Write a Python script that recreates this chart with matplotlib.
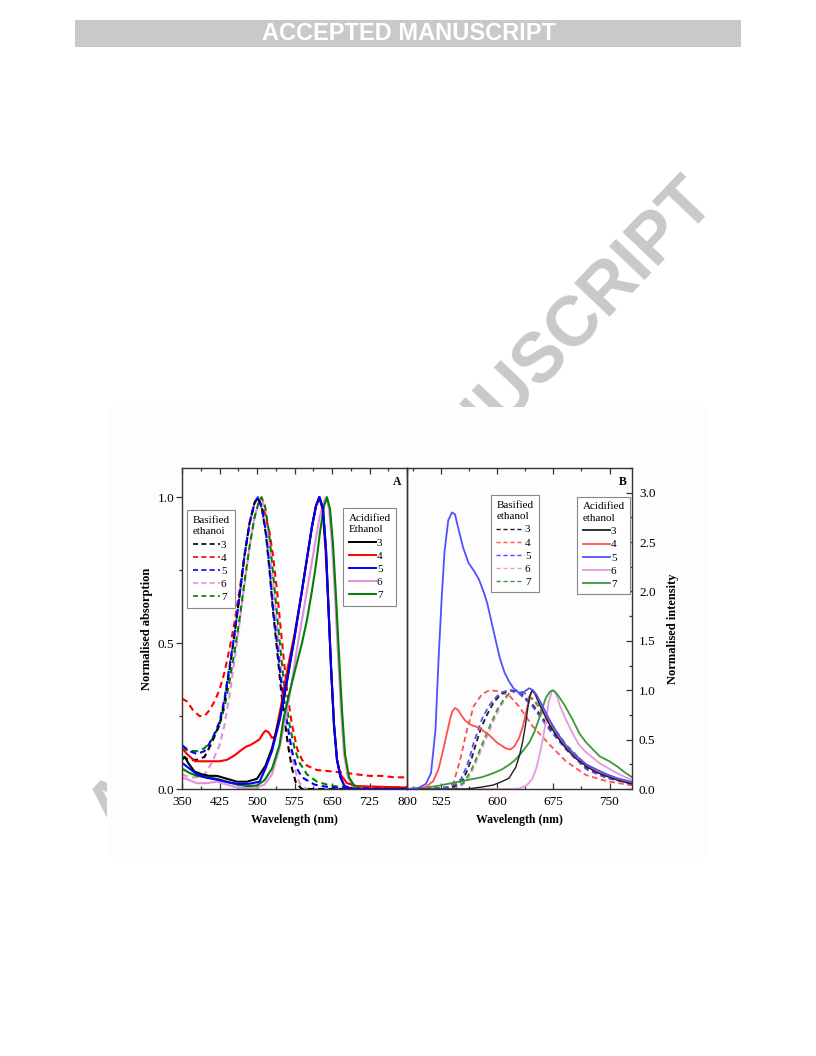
import numpy as np
import matplotlib
matplotlib.use("Agg")
import matplotlib.pyplot as plt
from matplotlib.patches import Rectangle
from matplotlib.lines import Line2D
from matplotlib.ticker import FixedLocator, MultipleLocator

plt.rcParams['font.family'] = ['Liberation Serif', 'DejaVu Serif']

# ---- Panel A: absorption (basified = dashed, acidified = solid) ----
a_bas_3_x = [350, 365, 380, 395, 410, 425, 435, 445, 455, 465, 475, 485, 495, 501, 510, 518, 525, 532, 540, 548, 555, 562, 570, 578, 590, 800]
a_bas_3_y = [0.11, 0.10, 0.10, 0.11, 0.16, 0.22, 0.30, 0.41, 0.53, 0.66, 0.80, 0.91, 0.98, 1.0, 0.96, 0.87, 0.75, 0.61, 0.48, 0.34, 0.24, 0.15, 0.07, 0.02, 0.0, 0.0]
a_bas_4_x = [350, 360, 372, 385, 395, 405, 415, 425, 435, 445, 455, 465, 475, 485, 495, 502, 510, 518, 525, 532, 540, 548, 555, 562, 570, 580, 590, 600, 620, 650, 680, 700, 725, 750, 775, 800]
a_bas_4_y = [0.31, 0.30, 0.27, 0.25, 0.25, 0.27, 0.30, 0.34, 0.40, 0.48, 0.57, 0.68, 0.80, 0.91, 0.98, 1.0, 0.97, 0.93, 0.88, 0.80, 0.68, 0.54, 0.42, 0.31, 0.22, 0.14, 0.10, 0.08, 0.065, 0.06, 0.055, 0.05, 0.045, 0.045, 0.04, 0.04]
a_bas_5_x = [350, 365, 380, 395, 410, 425, 435, 445, 455, 465, 475, 485, 495, 502, 510, 518, 525, 532, 540, 548, 555, 562, 570, 580, 590, 600, 615, 630, 650, 700, 800]
a_bas_5_y = [0.15, 0.13, 0.12, 0.13, 0.17, 0.23, 0.31, 0.42, 0.53, 0.66, 0.80, 0.91, 0.98, 1.0, 0.96, 0.88, 0.76, 0.62, 0.50, 0.37, 0.28, 0.21, 0.13, 0.07, 0.04, 0.03, 0.015, 0.01, 0.005, 0.003, 0.003]
a_bas_6_x = [350, 365, 380, 395, 410, 425, 435, 445, 455, 465, 475, 485, 495, 503, 509, 516, 524, 532, 540, 548, 556, 565, 575, 585, 600, 800]
a_bas_6_y = [0.05, 0.04, 0.04, 0.05, 0.09, 0.15, 0.22, 0.32, 0.44, 0.57, 0.70, 0.83, 0.93, 0.98, 1.0, 0.96, 0.86, 0.71, 0.56, 0.41, 0.28, 0.16, 0.07, 0.02, 0.0, 0.0]
a_bas_7_x = [350, 365, 380, 395, 410, 425, 435, 445, 455, 465, 475, 485, 495, 503, 509, 516, 524, 532, 540, 548, 556, 565, 575, 585, 600, 620, 650, 700, 800]
a_bas_7_y = [0.14, 0.13, 0.13, 0.14, 0.17, 0.22, 0.28, 0.37, 0.47, 0.58, 0.71, 0.83, 0.93, 0.98, 1.0, 0.97, 0.88, 0.74, 0.60, 0.46, 0.33, 0.22, 0.14, 0.09, 0.05, 0.025, 0.01, 0.005, 0.005]

a_aci_3_x = [350, 356, 362, 375, 390, 405, 420, 440, 460, 480, 500, 517, 530, 546, 560, 575, 590, 600, 610, 618, 625, 632, 638, 643, 648, 654, 660, 667, 675, 690, 800]
a_aci_3_y = [0.10, 0.11, 0.09, 0.06, 0.05, 0.045, 0.045, 0.035, 0.025, 0.025, 0.035, 0.08, 0.14, 0.25, 0.37, 0.52, 0.68, 0.79, 0.90, 0.97, 1.0, 0.96, 0.82, 0.62, 0.42, 0.22, 0.10, 0.04, 0.01, 0.0, 0.0]
a_aci_4_x = [350, 360, 376, 395, 410, 425, 440, 455, 466, 478, 486, 496, 505, 512, 517, 523, 530, 536, 543, 552, 562, 575, 588, 600, 610, 618, 624, 631, 637, 643, 648, 654, 660, 667, 680, 700, 800]
a_aci_4_y = [0.14, 0.12, 0.095, 0.095, 0.095, 0.095, 0.10, 0.115, 0.13, 0.145, 0.15, 0.16, 0.17, 0.19, 0.20, 0.195, 0.175, 0.18, 0.24, 0.32, 0.42, 0.53, 0.66, 0.79, 0.90, 0.97, 1.0, 0.96, 0.82, 0.62, 0.42, 0.22, 0.10, 0.05, 0.02, 0.01, 0.005]
a_aci_5_x = [350, 365, 380, 395, 410, 425, 445, 465, 485, 505, 517, 530, 546, 560, 575, 590, 600, 610, 618, 625, 632, 638, 643, 648, 654, 660, 667, 675, 690, 800]
a_aci_5_y = [0.09, 0.07, 0.05, 0.04, 0.035, 0.03, 0.022, 0.017, 0.018, 0.025, 0.07, 0.13, 0.24, 0.37, 0.52, 0.68, 0.79, 0.90, 0.97, 1.0, 0.96, 0.82, 0.62, 0.42, 0.22, 0.10, 0.04, 0.01, 0.0, 0.0]
a_aci_6_x = [350, 365, 380, 400, 420, 440, 460, 480, 500, 515, 530, 545, 557, 568, 580, 592, 604, 615, 625, 633, 638, 644, 650, 656, 662, 668, 674, 682, 692, 710, 800]
a_aci_6_y = [0.04, 0.03, 0.02, 0.02, 0.025, 0.015, 0.005, 0.003, 0.005, 0.015, 0.05, 0.14, 0.24, 0.35, 0.48, 0.60, 0.72, 0.83, 0.93, 0.98, 1.0, 0.96, 0.84, 0.66, 0.46, 0.27, 0.12, 0.04, 0.01, 0.0, 0.0]
a_aci_7_x = [350, 365, 380, 400, 420, 440, 460, 480, 500, 515, 530, 545, 553, 565, 578, 590, 600, 610, 618, 626, 634, 640, 646, 652, 658, 664, 670, 676, 684, 695, 710, 800]
a_aci_7_y = [0.07, 0.055, 0.045, 0.04, 0.035, 0.025, 0.015, 0.01, 0.012, 0.03, 0.07, 0.15, 0.24, 0.33, 0.42, 0.50, 0.58, 0.68, 0.77, 0.88, 0.97, 1.0, 0.96, 0.84, 0.66, 0.46, 0.27, 0.12, 0.04, 0.01, 0.0, 0.0]

# ---- Panel B: emission ----
b_bas_3_x = [480, 525, 540, 548, 555, 561, 567, 572, 578, 584, 590, 596, 603, 610, 619, 631, 649, 670, 692, 719, 746, 777, 780]
b_bas_3_y = [0.0, 0.005, 0.02, 0.05, 0.1, 0.2, 0.33, 0.46, 0.6, 0.71, 0.8, 0.88, 0.94, 0.98, 1.0, 0.97, 0.84, 0.62, 0.42, 0.21, 0.12, 0.06, 0.055]
b_bas_4_x = [480, 520, 535, 542, 551, 560, 569, 580, 590, 601, 616, 629, 647, 670, 692, 719, 746, 777, 780]
b_bas_4_y = [0.0, 0.005, 0.02, 0.06, 0.3, 0.6, 0.84, 0.96, 1.0, 0.99, 0.95, 0.84, 0.64, 0.45, 0.28, 0.14, 0.08, 0.04, 0.04]
b_bas_5_x = [480, 520, 535, 545, 552, 558, 564, 569, 575, 580, 587, 593, 600, 607, 616, 629, 647, 670, 692, 719, 746, 777, 780]
b_bas_5_y = [0.0, 0.005, 0.02, 0.05, 0.1, 0.2, 0.33, 0.47, 0.6, 0.71, 0.81, 0.88, 0.94, 0.98, 1.0, 0.97, 0.84, 0.6, 0.4, 0.2, 0.11, 0.06, 0.055]
b_bas_6_x = [480, 535, 550, 560, 568, 576, 585, 595, 605, 615, 623, 633, 650, 670, 692, 719, 746, 777, 780]
b_bas_6_y = [0.0, 0.005, 0.02, 0.08, 0.2, 0.34, 0.5, 0.68, 0.84, 0.95, 1.0, 0.98, 0.88, 0.65, 0.43, 0.22, 0.12, 0.06, 0.06]
b_bas_7_x = [480, 530, 545, 555, 565, 572, 580, 590, 600, 610, 618, 625, 635, 650, 670, 692, 719, 746, 777, 780]
b_bas_7_y = [0.0, 0.005, 0.02, 0.06, 0.18, 0.3, 0.45, 0.63, 0.8, 0.92, 0.98, 1.0, 0.98, 0.9, 0.68, 0.45, 0.24, 0.13, 0.07, 0.065]

b_aci_3_x = [480, 560, 580, 595, 605, 616, 625, 630, 634, 638, 641, 644, 647, 651, 656, 663, 670, 680, 692, 705, 719, 732, 746, 760, 770, 780]
b_aci_3_y = [0.0, 0.0, 0.02, 0.04, 0.07, 0.11, 0.22, 0.34, 0.47, 0.65, 0.82, 0.95, 1.0, 0.96, 0.87, 0.76, 0.65, 0.53, 0.41, 0.31, 0.23, 0.17, 0.13, 0.09, 0.07, 0.05]
b_aci_4_x = [480, 495, 505, 515, 522, 529, 536, 540, 544, 548, 553, 558, 565, 576, 589, 600, 612, 618, 623, 629, 634, 639, 643, 647, 651, 656, 663, 670, 680, 692, 705, 719, 732, 746, 760, 770, 780]
b_aci_4_y = [0.0, 0.005, 0.02, 0.08, 0.2, 0.42, 0.66, 0.78, 0.82, 0.80, 0.74, 0.69, 0.65, 0.62, 0.55, 0.47, 0.41, 0.40, 0.43, 0.51, 0.62, 0.78, 0.92, 1.0, 0.96, 0.87, 0.76, 0.66, 0.54, 0.42, 0.32, 0.24, 0.18, 0.14, 0.10, 0.08, 0.06]
b_aci_5_x = [480, 495, 505, 512, 518, 522, 526, 530, 535, 540, 544, 549, 555, 562, 570, 576, 582, 587, 593, 599, 604, 610, 616, 622, 628, 634, 639, 643, 648, 653, 660, 670, 680, 692, 705, 719, 732, 746, 760, 770, 780]
b_aci_5_y = [0.0, 0.01, 0.05, 0.16, 0.6, 1.3, 1.9, 2.4, 2.72, 2.8, 2.78, 2.62, 2.44, 2.29, 2.20, 2.12, 2.0, 1.88, 1.68, 1.48, 1.32, 1.18, 1.09, 1.02, 0.98, 0.97, 1.0, 1.02, 1.0, 0.95, 0.85, 0.70, 0.57, 0.44, 0.34, 0.25, 0.20, 0.15, 0.11, 0.09, 0.07]
b_aci_6_x = [480, 620, 630, 640, 647, 652, 656, 661, 665, 669, 673, 676, 680, 684, 692, 701, 710, 719, 737, 760, 780]
b_aci_6_y = [0.0, 0.0, 0.005, 0.04, 0.1, 0.2, 0.32, 0.5, 0.68, 0.88, 0.99, 1.0, 0.94, 0.84, 0.70, 0.56, 0.44, 0.37, 0.26, 0.16, 0.09]
b_aci_7_x = [480, 500, 520, 540, 560, 580, 595, 607, 617, 625, 634, 643, 650, 656, 661, 665, 670, 674, 678, 683, 690, 701, 710, 719, 737, 750, 760, 770, 780]
b_aci_7_y = [0.0, 0.01, 0.03, 0.06, 0.09, 0.12, 0.16, 0.2, 0.25, 0.3, 0.38, 0.47, 0.58, 0.71, 0.83, 0.92, 0.98, 1.0, 0.98, 0.93, 0.85, 0.70, 0.56, 0.47, 0.33, 0.28, 0.23, 0.17, 0.12]

labels = ['3', '4', '5', '6', '7']
colA = ['#000000', '#ff0000', '#0000ff', '#e58fdc', '#008000']
colB = ['#202020', '#ff5050', '#5050ff', '#e59ae0', '#3a9a3a']

fig = plt.figure(figsize=(8.16, 10.56), dpi=100)

# watermark behind the chart
fig.text(404 / 816, 1 - 508 / 1056, 'ACCEPTED MANUSCRIPT', rotation=46.4, ha='center',
         va='center', fontsize=50.5, weight='bold', color='#c8c9cb',
         family='Liberation Sans', zorder=-3)
# chart image background
fig.patches.append(Rectangle((107 / 816, 1 - 857 / 1056), 601 / 816, 450 / 1056,
                             transform=fig.transFigure, facecolor='#fdfdfd',
                             edgecolor='none', zorder=-2))
# top banner
fig.patches.append(Rectangle((75 / 816, 1 - 47 / 1056), 666 / 816, 27 / 1056,
                             transform=fig.transFigure, facecolor='#c8c9cb',
                             edgecolor='none', zorder=1))
fig.text(409 / 816, 1 - 34 / 1056, 'ACCEPTED MANUSCRIPT', ha='center', va='center',
         fontsize=17, weight='bold', color='white',
         family='Liberation Sans', zorder=2)

axA = fig.add_axes([182 / 816, 1 - 789 / 1056, 225 / 816, 321 / 1056])
axB = fig.add_axes([407 / 816, 1 - 789 / 1056, 225 / 816, 321 / 1056])

bas_A = [(a_bas_3_x, a_bas_3_y), (a_bas_4_x, a_bas_4_y), (a_bas_5_x, a_bas_5_y),
         (a_bas_6_x, a_bas_6_y), (a_bas_7_x, a_bas_7_y)]
aci_A = [(a_aci_3_x, a_aci_3_y), (a_aci_4_x, a_aci_4_y), (a_aci_5_x, a_aci_5_y),
         (a_aci_6_x, a_aci_6_y), (a_aci_7_x, a_aci_7_y)]
bas_B = [(b_bas_3_x, b_bas_3_y), (b_bas_4_x, b_bas_4_y), (b_bas_5_x, b_bas_5_y),
         (b_bas_6_x, b_bas_6_y), (b_bas_7_x, b_bas_7_y)]
aci_B = [(b_aci_3_x, b_aci_3_y), (b_aci_4_x, b_aci_4_y), (b_aci_5_x, b_aci_5_y),
         (b_aci_6_x, b_aci_6_y), (b_aci_7_x, b_aci_7_y)]

order = [3, 1, 4, 0, 2]  # draw pink, red, green, black, blue
for i in order:
    axA.plot(*bas_A[i], color=colA[i], lw=1.5, ls=(0, (3, 2)))
for i in order:
    axA.plot(*aci_A[i], color=colA[i], lw=1.5)
for i in order:
    axB.plot(*bas_B[i], color=colB[i], lw=1.3, ls=(0, (3, 2)))
for i in [3, 4, 1, 0, 2]:
    axB.plot(*aci_B[i], color=colB[i], lw=1.0 if i == 0 else 1.3)

# axes formatting
for ax in (axA, axB):
    ax.set_facecolor('none')
    for s in ax.spines.values():
        s.set_linewidth(1.0)
        s.set_color('#333333')
    ax.tick_params(which='both', labelsize=9.5, color='#333333', width=0.9)
    ax.tick_params(which='major', length=4)
    ax.tick_params(which='minor', length=2.5)
    ax.tick_params(axis='x', which='major', pad=5)
    ax.set_xlabel('Wavelength (nm)', fontsize=8.5, weight='bold', labelpad=4)

axA.set_xlim(350, 800)
axA.set_ylim(0, 1.1)
axA.xaxis.set_major_locator(FixedLocator(np.arange(350, 801, 75)))
axA.xaxis.set_minor_locator(FixedLocator(np.arange(387.5, 800, 75)))
axA.yaxis.set_major_locator(MultipleLocator(0.5))
axA.yaxis.set_minor_locator(MultipleLocator(0.25))
axA.yaxis.set_major_formatter(lambda v, p: f'{v:.1f}')
axA.tick_params(axis='x', which='both', direction='in', top=True)
axA.tick_params(axis='y', which='both', direction='out', right=False, pad=1.5)
axA.set_ylabel('Normalised absorption', fontsize=9, weight='bold', labelpad=3)
axA.text(0.975, 0.955, 'A', transform=axA.transAxes, ha='right', va='center',
         fontsize=8.5, weight='bold')

axB.set_xlim(480, 780)
axB.set_ylim(0, 3.25)
axB.xaxis.set_major_locator(MultipleLocator(75))
axB.xaxis.set_minor_locator(MultipleLocator(37.5))
axB.yaxis.set_major_locator(MultipleLocator(0.5))
axB.yaxis.set_minor_locator(MultipleLocator(0.25))
axB.yaxis.set_major_formatter(lambda v, p: f'{v:.1f}')
axB.yaxis.tick_right()
axB.yaxis.set_label_position('right')
axB.tick_params(axis='x', which='both', direction='in', top=True)
axB.tick_params(axis='y', which='both', direction='in', left=False, right=True, pad=5)
axB.set_ylabel('Normalised intensity', fontsize=9, weight='bold', labelpad=8)
axB.text(0.975, 0.955, 'B', transform=axB.transAxes, ha='right', va='center',
         fontsize=8.5, weight='bold')


def make_legend(ax, title, cols, dashed, lw, anchor):
    hs = [Line2D([], [], color=c, lw=lw, ls=(0, (3, 2)) if dashed else '-') for c in cols]
    leg = ax.legend(hs, labels, title=title, loc='upper left', bbox_to_anchor=anchor,
                    fontsize=8, title_fontsize=8, alignment='left',
                    handlelength=2.5, handletextpad=0.05, labelspacing=0.3,
                    borderpad=0.5, fancybox=False, framealpha=1,
                    edgecolor='#888888', borderaxespad=0)
    leg.get_frame().set_linewidth(0.8)
    leg.get_title().set_linespacing(1.4)
    return leg


legA1 = make_legend(axA, 'Basified\nethanoi', colA, True, 1.2, (0.022, 0.869))
axA.add_artist(legA1)
make_legend(axA, 'Acidified\nEthanol', colA, False, 1.4, (0.716, 0.875))
legB1 = make_legend(axB, 'Basified\nethanol', colB, True, 1.0, (0.373, 0.916))
axB.add_artist(legB1)
make_legend(axB, 'Acidified\nethanol', colB, False, 1.3, (0.756, 0.910))

fig.savefig('out.png', dpi=100)
